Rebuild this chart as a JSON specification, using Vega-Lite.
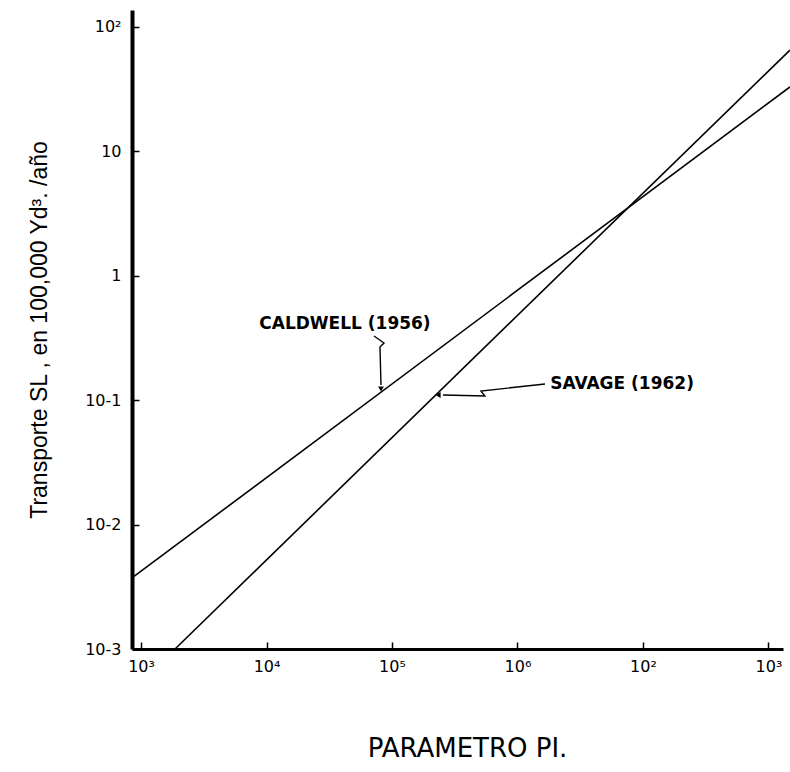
{
  "$schema": "https://vega.github.io/schema/vega-lite/v6.json",
  "autosize": {"type": "none"},
  "padding": {"left": 132, "top": 10, "right": 7, "bottom": 123},
  "width": 651,
  "height": 639,
  "background": "white",
  "config": {
    "view": {"stroke": null},
    "axis": {"grid": false, "domainColor": "black", "tickColor": "black", "labelColor": "black", "titleColor": "black", "labelFont": "DejaVu Sans", "titleFont": "DejaVu Sans"}
  },
  "layer": [
    {
      "data": {"values": [
        {"series": "Caldwell (1956)", "px": 847, "q": 0.00372},
        {"series": "Caldwell (1956)", "px": 148300000, "q": 32.7},
        {"series": "Savage (1962)", "px": 1866, "q": 0.001},
        {"series": "Savage (1962)", "px": 148300000, "q": 64.7}
      ]},
      "mark": {"type": "line", "color": "black", "strokeWidth": 1.6, "clip": false},
      "encoding": {
        "x": {
          "field": "px", "type": "quantitative",
          "scale": {"type": "log", "domain": [847.2, 130600000], "nice": false, "zero": false},
          "axis": {
            "values": [1000, 10000, 100000, 1000000, 10000000, 100000000],
            "labelExpr": "datum.value < 5e3 ? '10³' : datum.value < 5e4 ? '10⁴' : datum.value < 5e5 ? '10⁵' : datum.value < 5e6 ? '10⁶' : datum.value < 5e7 ? '10²' : '10³'",
            "title": "PARAMETRO  PI.",
            "titleFontSize": 26,
            "titleFontWeight": "normal",
            "titlePadding": 61,
            "titleX": 335,
            "labelFontSize": 16,
            "labelPadding": 16,
            "tickSize": -7,
            "tickWidth": 1.5,
            "domainWidth": 3
          }
        },
        "y": {
          "field": "q", "type": "quantitative",
          "scale": {"type": "log", "domain": [0.001, 135.8], "nice": false, "zero": false},
          "axis": {
            "values": [0.001, 0.01, 0.1, 1, 10, 100],
            "labelExpr": "datum.value > 50 ? '10²' : datum.value > 5 ? '10' : datum.value > 0.5 ? '1' : datum.value > 0.05 ? '10-1' : datum.value > 0.005 ? '10-2' : '10-3'",
            "title": "Transporte SL , en 100,000 Yd³. /año",
            "titleFont": "Liberation Sans",
            "titleFontSize": 23,
            "titleFontWeight": "normal",
            "titlePadding": 33,
            "labelFontSize": 16,
            "labelPadding": 18,
            "tickSize": -7,
            "tickWidth": 1.5,
            "domainWidth": 4
          }
        },
        "detail": {"field": "series"}
      }
    },
    {
      "data": {"values": [
        {"arrow": "Caldwell", "ord": 1, "px": 71900, "q": 0.3266},
        {"arrow": "Caldwell", "ord": 2, "px": 86300, "q": 0.2871},
        {"arrow": "Caldwell", "ord": 3, "px": 80200, "q": 0.2667},
        {"arrow": "Caldwell", "ord": 4, "px": 81700, "q": 0.1320},
        {"arrow": "Savage", "ord": 1, "px": 1656000, "q": 0.1346},
        {"arrow": "Savage", "ord": 2, "px": 511700, "q": 0.1180},
        {"arrow": "Savage", "ord": 3, "px": 550400, "q": 0.1076},
        {"arrow": "Savage", "ord": 4, "px": 254700, "q": 0.1096}
      ]},
      "mark": {"type": "line", "color": "black", "strokeWidth": 1.4},
      "encoding": {
        "x": {"field": "px", "type": "quantitative"},
        "y": {"field": "q", "type": "quantitative"},
        "detail": {"field": "arrow"},
        "order": {"field": "ord"}
      }
    },
    {
      "data": {"values": [
        {"px": 81700, "q": 0.1226, "shape": "triangle-down"},
        {"px": 232800, "q": 0.1096, "shape": "triangle-left"}
      ]},
      "mark": {"type": "point", "filled": true, "color": "black", "size": 35, "opacity": 1},
      "encoding": {
        "x": {"field": "px", "type": "quantitative"},
        "y": {"field": "q", "type": "quantitative"},
        "shape": {"field": "shape", "type": "nominal", "scale": null}
      }
    },
    {
      "data": {"values": [
        {"label": "CALDWELL (1956)", "px": 42170, "q": 0.4076},
        {"label": "SAVAGE (1962)", "px": 6810000, "q": 0.1346}
      ]},
      "mark": {"type": "text", "font": "DejaVu Sans", "fontSize": 17, "fontWeight": "bold", "color": "black", "align": "center", "baseline": "middle"},
      "encoding": {
        "x": {"field": "px", "type": "quantitative"},
        "y": {"field": "q", "type": "quantitative"},
        "text": {"field": "label"}
      }
    }
  ]
}
